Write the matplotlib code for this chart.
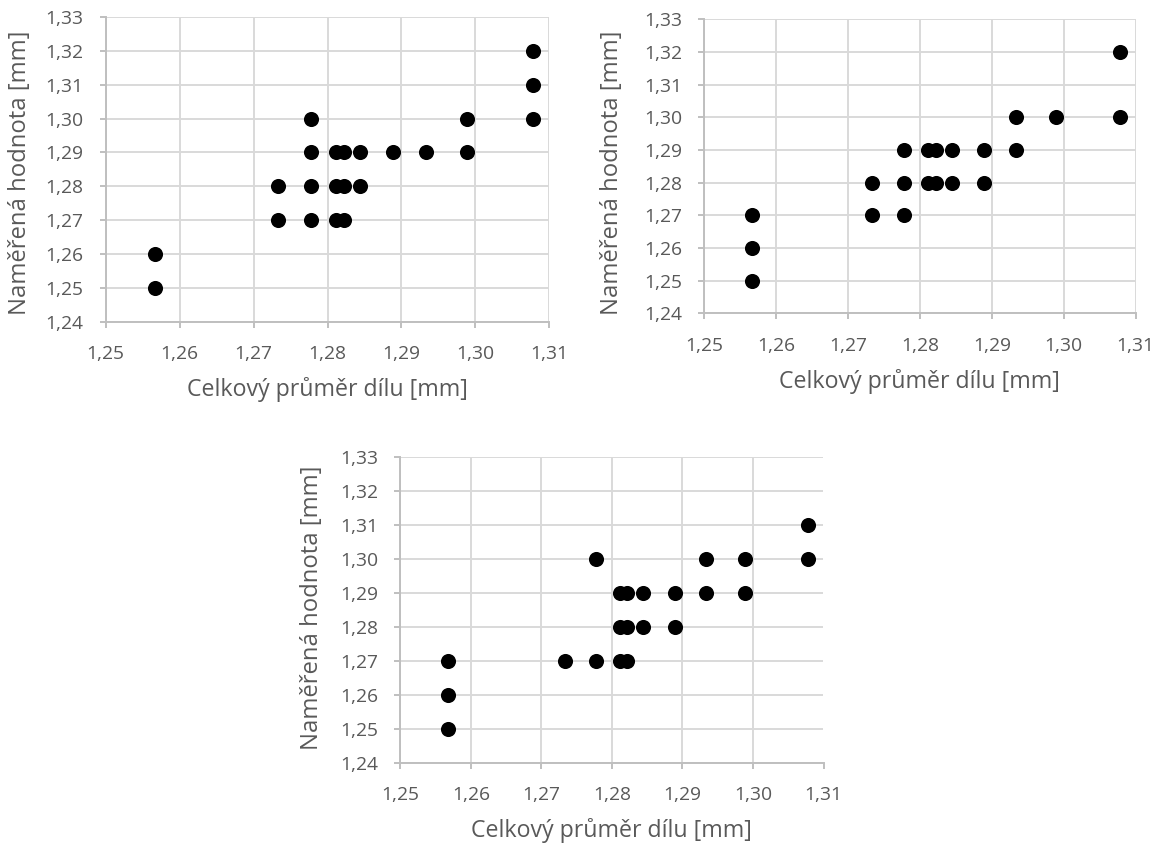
import matplotlib
matplotlib.use("Agg")
import matplotlib.pyplot as plt
from matplotlib.ticker import FixedLocator, FuncFormatter

plt.rcParams['font.family'] = ['Open Sans', 'DejaVu Sans']

# Data
x1 = [1.2567, 1.2567,
      1.2733, 1.2733,
      1.2778, 1.2778, 1.2778, 1.2778,
      1.2811, 1.2811, 1.2811,
      1.2822, 1.2822, 1.2822,
      1.2844, 1.2844,
      1.2889,
      1.2933,
      1.2989, 1.2989,
      1.3078, 1.3078, 1.3078]
y1 = [1.25, 1.26,
      1.27, 1.28,
      1.27, 1.28, 1.29, 1.30,
      1.27, 1.28, 1.29,
      1.27, 1.28, 1.29,
      1.28, 1.29,
      1.29,
      1.29,
      1.29, 1.30,
      1.30, 1.31, 1.32]

x2 = [1.2567, 1.2567, 1.2567,
      1.2733, 1.2733,
      1.2778, 1.2778, 1.2778,
      1.2811, 1.2811,
      1.2822, 1.2822,
      1.2844, 1.2844,
      1.2889, 1.2889,
      1.2933, 1.2933,
      1.2989,
      1.3078, 1.3078]
y2 = [1.25, 1.26, 1.27,
      1.27, 1.28,
      1.27, 1.28, 1.29,
      1.28, 1.29,
      1.28, 1.29,
      1.28, 1.29,
      1.28, 1.29,
      1.29, 1.30,
      1.30,
      1.30, 1.32]

x3 = [1.2567, 1.2567, 1.2567,
      1.2733,
      1.2778, 1.2778,
      1.2811, 1.2811, 1.2811,
      1.2822, 1.2822, 1.2822,
      1.2844, 1.2844,
      1.2889, 1.2889,
      1.2933, 1.2933,
      1.2989, 1.2989,
      1.3078, 1.3078]
y3 = [1.25, 1.26, 1.27,
      1.27,
      1.27, 1.30,
      1.27, 1.28, 1.29,
      1.27, 1.28, 1.29,
      1.28, 1.29,
      1.28, 1.29,
      1.29, 1.30,
      1.29, 1.30,
      1.30, 1.31]

x_ticks = [1.25, 1.26, 1.27, 1.28, 1.29, 1.30, 1.31]
y_ticks = [1.24, 1.25, 1.26, 1.27, 1.28, 1.29, 1.30, 1.31, 1.32, 1.33]
x_label = "Celkový průměr dílu [mm]"
y_label = "Naměřená hodnota [mm]"

W, H = 1170, 843
fig = plt.figure(figsize=(W / 100, H / 100), dpi=100)
renderer = fig.canvas.get_renderer()


def text_width(s, size):
    t = fig.text(0, 0, s, fontsize=size)
    w = t.get_window_extent(renderer).width
    t.remove()
    return w


def fit_size(s, target_px):
    return 10 * target_px / text_width(s, 10)


tick_size = fit_size("1,33", 38)
xlab_size = fit_size(x_label, 281)
ylab_size = fit_size(y_label, 285)

# (left, top, right, bottom) of plot areas in pixels,
# ylabel right edge x, ylabel centre y, xlabel top y
layouts = [
    ((105.7, 17.0, 549.3, 321.7), 32.0, 172.5, 377.0),
    ((704.0, 19.3, 1135.7, 313.3), 623.5, 172.5, 368.5),
    ((400.3, 457.3, 823.5, 762.7), 323.5, 607.5, 818.0),
]
datasets = [(x1, y1), (x2, y2), (x3, y3)]

fmt = FuncFormatter(lambda v, p: f"{v:.2f}".replace(".", ","))
text_col = "#595959"
grid_col = "#d9d9d9"
axis_col = "#bfbfbf"

for (box, ylab_x, ylab_y, xlab_top), (xs, ys) in zip(layouts, datasets):
    l, t, r, b = box
    ax = fig.add_axes([l / W, 1 - b / H, (r - l) / W, (b - t) / H])
    ax.scatter(xs, ys, s=118, color="black", zorder=3, linewidths=0)
    ax.set_xlim(1.25, 1.31)
    ax.set_ylim(1.24, 1.33)
    ax.xaxis.set_major_locator(FixedLocator(x_ticks))
    ax.yaxis.set_major_locator(FixedLocator(y_ticks))
    ax.xaxis.set_major_formatter(fmt)
    ax.yaxis.set_major_formatter(fmt)
    ax.grid(True, color=grid_col, linewidth=1.4, zorder=0)
    ax.set_axisbelow(True)
    for s in ["top", "right"]:
        ax.spines[s].set_visible(False)
    for s in ["left", "bottom"]:
        ax.spines[s].set_color(axis_col)
        ax.spines[s].set_linewidth(1.4)
    ax.tick_params(axis="both", colors=axis_col, labelcolor=text_col,
                   labelsize=tick_size, length=4.4, width=1.4, direction="out")
    ax.tick_params(axis="x", pad=12.5)
    ax.tick_params(axis="y", pad=11.5)
    ax.set_xlabel(x_label, color=text_col, fontsize=xlab_size)
    ax.set_ylabel(y_label, color=text_col, fontsize=ylab_size)
    ax.xaxis.set_label_coords((l + r) / 2 / W, 1 - xlab_top / H,
                              transform=fig.transFigure)
    ax.yaxis.set_label_coords(ylab_x / W, 1 - ylab_y / H,
                              transform=fig.transFigure)

fig.savefig("out.png", dpi=100, facecolor="white")
